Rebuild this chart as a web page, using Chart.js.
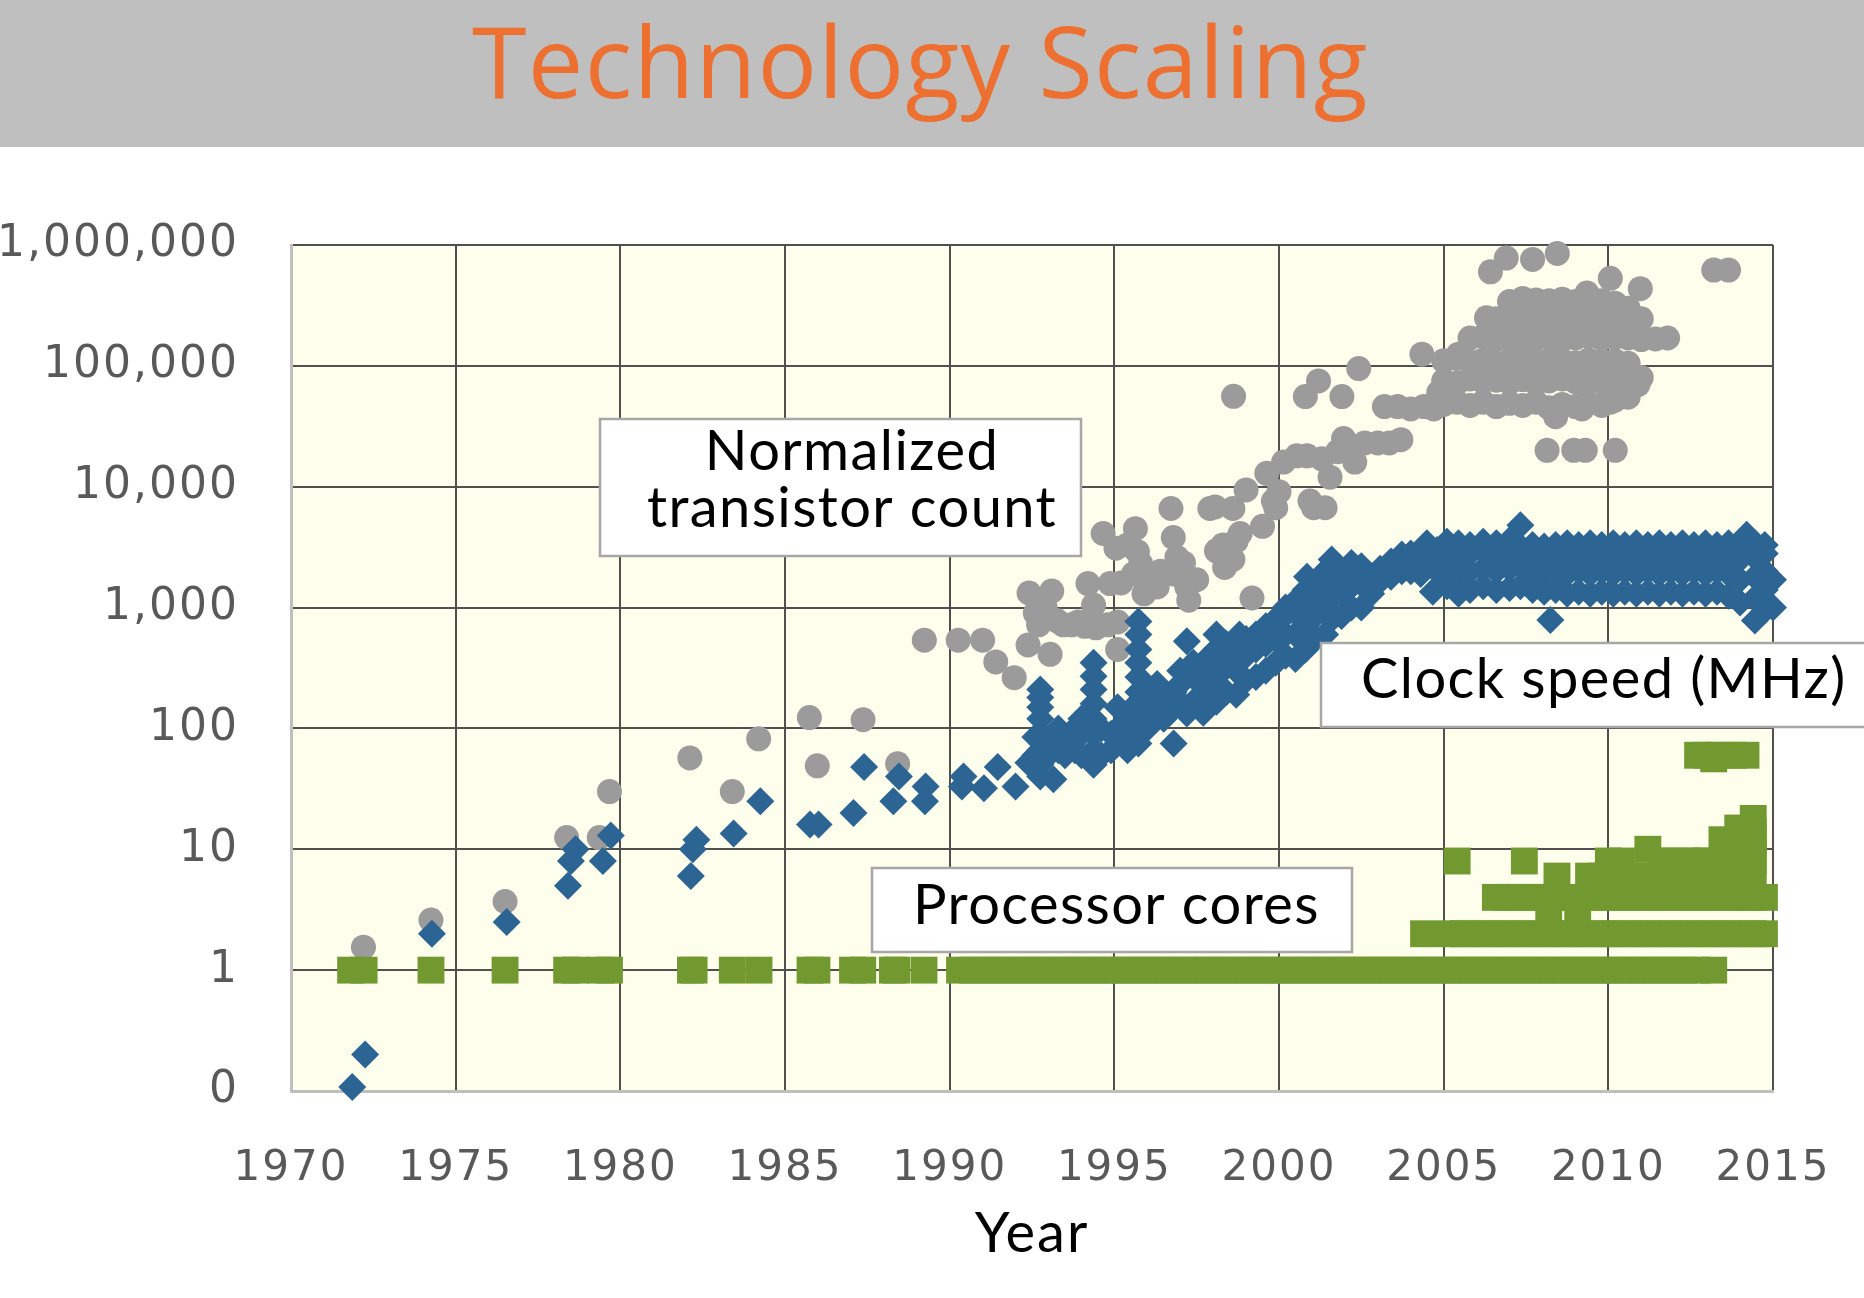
<!DOCTYPE html>
<html><head><meta charset="utf-8">
<script src="https://cdn.jsdelivr.net/npm/chart.js@4.4.1/dist/chart.umd.min.js"></script>
<style>
html,body{margin:0;padding:0;background:#fff;width:1864px;height:1298px;overflow:hidden}
#hdr{position:absolute;left:0;top:0;width:1864px;height:147px;background:#bfbfbf}
#ttl{position:absolute;left:472px;top:10px;font:99px/1 "Open Sans";letter-spacing:1.3px;color:#ed7030;white-space:nowrap}
#wrap{position:absolute;left:0;top:147px;width:1864px;height:1151px}
</style></head><body>
<div id="hdr"><div id="ttl">Technology Scaling</div></div>
<div id="wrap"><canvas id="c" width="1864" height="1151"></canvas></div>
<script>
// ---- data ----
const xTickValues = [1970,1975,1980,1985,1990,1995,2000,2005,2010,2015];
const yTickValues = [0.1,1,10,100,1000,10000,100000,1000000];
const yTickLabels = ['0','1','10','100','1,000','10,000','100,000','1,000,000'];
const xTitle = 'Year';

const transistorPoints = [
[1972.2,1.55],[1974.25,2.6],[1976.5,3.7],[1978.37,12.5],[1979.36,12.5],[1979.67,30],[1982.11,57],[1983.4,30],[1984.2,82],[1985.74,123],[1985.98,49],[1987.37,118],[1988.42,51],[1989.23,537],[1990.26,537],[1991.0,537],[1991.4,355],[1991.96,263],
[1992.38,490],[1992.41,1320],[1992.6,900],[1992.7,720],[1992.9,1000],[1993.05,410],[1993.1,1370],[1993.25,780],[1993.45,720],[1993.7,720],[1993.9,760],[1994.1,700],[1994.2,1580],[1994.37,1050],[1994.44,680],[1994.66,4100],[1994.8,720],[1994.87,1580],[1995.05,3100],[1995.1,760],[1995.1,450],[1995.2,1600],[1995.4,3300],[1995.58,1900],[1995.64,4500],[1995.7,2900],[1995.8,2300],[1995.9,1300],[1996.0,1700],[1996.3,1480],[1996.4,2000],[1996.72,6600],[1996.8,1900],[1996.79,3800],[1996.9,2600],[1997.1,2340],[1997.2,1480],[1997.26,1150],[1997.5,1700],[1997.9,6600],[1998.06,6800],[1998.1,2950],[1998.3,3300],[1998.35,2150],[1998.6,6600],[1998.6,2500],[1998.62,56000],[1998.7,3560],[1998.82,4100],[1999.0,9400],[1999.18,1200],[1999.5,4700],[1999.63,12900],[1999.83,7600],[1999.9,6700],[2000.0,9100],[2000.14,16000],
[2000.54,18000],[2000.85,18000],[2000.8,55700],[2000.94,7600],[2001.05,6700],[2001.2,75000],[2001.3,17000],[2001.4,6700],[2001.55,12000],[2001.78,19500],[2001.91,55700],[2001.96,25000],[2002.06,23000],[2002.3,16000],[2002.42,95000],[2002.6,23000],[2003.0,23000],[2003.2,46000],[2003.35,23000],[2003.6,46000],[2003.7,24500],[2004.0,44000],[2004.34,125000],[2004.4,46000],[2004.7,44000],[2004.85,60000],
[2005.0,48000],[2005.0,75000],[2005.0,110000],
[2005.4,50000],[2005.4,72000],[2005.4,115000],[2005.45,125000],
[2005.8,47000],[2005.8,78000],[2005.8,108000],[2005.8,170000],
[2006.2,50000],[2006.2,74000],[2006.2,112000],[2006.2,175000],[2006.3,250000],
[2006.6,46000],[2006.6,76000],[2006.6,105000],[2006.6,165000],[2006.6,245000],
[2007.0,49000],[2007.0,73000],[2007.0,110000],[2007.0,170000],[2007.0,255000],[2007.0,340000],
[2007.4,47000],[2007.4,77000],[2007.4,115000],[2007.4,180000],[2007.4,260000],[2007.4,360000],
[2007.8,50000],[2007.8,72000],[2007.8,108000],[2007.8,168000],[2007.8,245000],[2007.8,350000],
[2008.2,45000],[2008.2,75000],[2008.2,112000],[2008.2,172000],[2008.2,250000],[2008.2,345000],
[2008.6,48000],[2008.6,78000],[2008.6,110000],[2008.6,165000],[2008.6,255000],[2008.6,355000],
[2009.0,46000],[2009.0,74000],[2009.0,106000],[2009.0,170000],[2009.0,248000],[2009.0,340000],
[2009.35,50000],[2009.4,76000],[2009.4,112000],[2009.4,175000],[2009.4,252000],[2009.35,400000],
[2009.8,47000],[2009.8,73000],[2009.8,108000],[2009.8,168000],[2009.8,245000],[2009.8,345000],
[2010.2,52000],[2010.2,78000],[2010.2,110000],[2010.2,172000],[2010.2,258000],[2010.2,330000],
[2010.6,55000],[2010.6,80000],[2010.6,105000],[2010.6,170000],[2010.6,250000],[2010.6,300000],
[2011.0,80000],[2011.0,165000],[2011.0,245000],[2011.43,167000],[2011.8,170000],
[2006.42,600000],[2006.9,780000],[2007.7,760000],[2008.45,850000],[2010.06,530000],[2010.97,435000],[2013.2,620000],[2013.65,620000],
[2008.14,20000],[2008.95,20000],[2009.3,20000],[2010.21,20000],[2008.4,38000],[2009.2,44000],[2010.06,50000],[2010.9,70000]
];

const clockPoints = [
[1971.86,0.108],[1972.25,0.2],[1974.28,2],[1976.55,2.5],[1978.41,5],[1978.5,8],[1978.64,10],[1979.47,8],[1979.71,13],[1982.14,6],[1982.2,10],[1982.31,12],[1983.44,13.5],[1984.25,25],[1985.76,16],[1986.02,16],[1987.08,20],[1987.4,48],[1988.29,25],[1988.46,40],[1989.25,25],[1989.27,33],[1990.37,33],[1990.42,40],[1991.04,32],[1991.46,48],[1992.0,33],[1992.39,52],
[1992.6,60],[1992.6,85],[1992.75,40],[1992.75,50],[1992.75,66],[1992.75,90],[1992.75,120],[1992.75,150],[1992.75,180],[1992.75,210],[1993.0,60],[1993.0,75],[1993.15,38],[1993.3,66],[1993.3,100],[1993.5,60],[1993.5,80],[1993.8,66],[1993.8,100],[1994.0,60],[1994.0,90],[1994.0,120],
[1994.37,50],[1994.37,66],[1994.37,90],[1994.37,120],[1994.37,160],[1994.37,210],[1994.37,270],[1994.37,350],[1994.6,60],[1994.6,100],[1994.9,66],[1994.9,90],[1995.1,75],[1995.1,100],[1995.1,150],[1995.4,66],[1995.4,100],[1995.4,133],
[1995.73,75],[1995.73,100],[1995.73,133],[1995.73,166],[1995.73,200],[1995.73,266],[1995.73,350],[1995.73,450],[1995.73,600],[1995.73,767],
[1996.0,100],[1996.0,150],[1996.0,200],[1996.3,133],[1996.3,233],[1996.5,120],[1996.5,166],[1996.5,200],[1996.8,75],[1996.8,150],[1996.8,200],[1997.0,166],[1997.0,233],[1997.0,300],[1997.2,133],[1997.2,527],[1997.4,166],[1997.4,266],[1997.4,350],[1997.7,135],[1997.7,233],[1997.7,300],[1997.9,200],[1997.9,300],[1997.9,400],
[1998.1,166],[1998.1,266],[1998.1,450],[1998.1,600],[1998.4,200],[1998.4,333],[1998.4,500],[1998.7,190],[1998.7,300],[1998.7,450],[1998.8,600],[1999.0,250],[1999.0,400],[1999.0,550],[1999.3,266],[1999.3,450],[1999.3,600],[1999.6,300],[1999.6,500],[1999.6,700],[1999.9,350],[1999.9,550],[1999.9,800],
[2000.2,400],[2000.2,600],[2000.2,866],[2000.2,1000],[2000.5,376],[2000.5,600],[2000.5,900],[2000.5,1133],[2000.8,450],[2000.8,700],[2000.8,1000],[2000.8,1400],[2000.85,1800],
[2001.1,550],[2001.1,850],[2001.1,1200],[2001.1,1500],[2001.4,600],[2001.4,1000],[2001.4,1400],[2001.4,2000],[2001.6,800],[2001.6,1200],[2001.6,1700],[2001.6,2500],[2001.9,850],[2001.9,1300],[2001.9,1800],[2002.2,1000],[2002.2,1500],[2002.2,2000],[2002.2,2340],[2002.5,1000],[2002.5,1700],[2002.5,2200],[2002.8,1300],[2002.8,1800],[2003.07,1660],[2003.07,2100],[2003.4,1800],[2003.4,2400],[2003.73,2000],[2003.73,2750],[2004.0,2000],[2004.0,2800],[2004.3,1900],[2004.3,2600],[2004.49,2400],[2004.49,3400],[2004.67,1350],[2004.8,2000],[2004.8,3000],
[2005.1,1500],[2005.1,2200],[2005.1,3000],[2005.1,3500],
[2005.45,1300],[2005.45,1900],[2005.45,2700],[2005.45,3400],
[2005.8,1400],[2005.8,2000],[2005.8,2800],[2005.8,3300],
[2006.2,1500],[2006.2,2100],[2006.2,2900],[2006.2,3500],
[2006.6,1400],[2006.6,2000],[2006.6,2700],[2006.6,3400],
[2007.0,1450],[2007.0,2100],[2007.0,2900],[2007.0,3600],
[2007.33,1500],[2007.33,2200],[2007.33,3200],[2007.33,4800],
[2007.7,1400],[2007.7,2000],[2007.7,2800],[2007.7,3300],
[2008.05,1350],[2008.05,1900],[2008.05,2700],[2008.05,3200],
[2008.24,790],
[2008.4,1400],[2008.4,2000],[2008.4,2800],[2008.4,3300],
[2008.75,1300],[2008.75,1900],[2008.75,2700],[2008.75,3400],
[2009.1,1350],[2009.1,2000],[2009.1,2800],[2009.1,3300],
[2009.45,1300],[2009.45,1900],[2009.45,2700],[2009.45,3400],
[2009.8,1350],[2009.8,2000],[2009.8,2800],[2009.8,3300],
[2010.15,1300],[2010.15,1900],[2010.15,2700],[2010.15,3400],
[2010.5,1350],[2010.5,2000],[2010.5,2800],[2010.5,3300],
[2010.85,1300],[2010.85,1900],[2010.85,2700],[2010.85,3400],
[2011.2,1350],[2011.2,2000],[2011.2,2800],[2011.2,3300],
[2011.55,1300],[2011.55,1900],[2011.55,2700],[2011.55,3400],
[2011.9,1350],[2011.9,2000],[2011.9,2800],[2011.9,3300],
[2012.25,1300],[2012.25,1900],[2012.25,2700],[2012.25,3400],
[2012.6,1350],[2012.6,2000],[2012.6,2800],[2012.6,3300],
[2012.95,1300],[2012.95,1900],[2012.95,2700],[2012.95,3400],
[2013.3,1350],[2013.3,2000],[2013.3,2800],[2013.3,3300],
[2013.65,1250],[2013.65,1900],[2013.65,2700],[2013.65,3400],
[2014.0,1100],[2014.0,1700],[2014.0,2500],[2014.0,3300],
[2014.2,4000],
[2014.45,780],[2014.45,1200],[2014.45,1800],[2014.45,2600],[2014.45,3400],
[2014.75,950],[2014.75,1400],[2014.75,2000],[2014.75,2800],[2014.75,3300],
[2015.0,1000],[2015.0,1700]
];

const corePoints = [
[1971.81,1],[1972.22,1],[1974.25,1],[1976.5,1],[1978.37,1],[1978.64,1],[1979.4,1],[1979.67,1],[1982.13,1],[1982.24,1],[1983.4,1],[1984.21,1],[1985.76,1],[1985.97,1],[1987.05,1],[1987.36,1],[1988.26,1],[1988.39,1],[1989.22,1],
[1990.3,1],[1990.7,1],[1991.1,1],[1991.5,1],[1991.9,1],[1992.3,1],[1992.7,1],[1993.1,1],[1993.5,1],[1993.9,1],[1994.3,1],[1994.7,1],[1995.1,1],[1995.5,1],[1995.9,1],[1996.3,1],[1996.7,1],[1997.1,1],[1997.5,1],[1997.9,1],[1998.3,1],[1998.7,1],[1999.1,1],[1999.5,1],[1999.9,1],[2000.3,1],[2000.7,1],[2001.1,1],[2001.5,1],[2001.9,1],[2002.3,1],[2002.7,1],[2003.1,1],[2003.5,1],[2003.9,1],[2004.3,1],[2004.7,1],[2005.1,1],[2005.5,1],[2005.9,1],[2006.3,1],[2006.7,1],[2007.1,1],[2007.5,1],[2007.9,1],[2008.3,1],[2008.7,1],[2009.1,1],[2009.5,1],[2009.9,1],[2010.3,1],[2010.7,1],[2011.1,1],[2011.5,1],[2011.9,1],[2012.3,1],[2012.7,1],[2013.2,1],
[2004.39,2],[2005.2,2],[2005.6,2],[2006.0,2],[2006.4,2],[2006.8,2],[2007.2,2],[2007.6,2],[2008.0,2],[2008.4,2],[2008.8,2],[2009.2,2],[2009.6,2],[2010.0,2],[2010.4,2],[2010.8,2],[2011.2,2],[2011.6,2],[2012.0,2],[2012.4,2],[2012.8,2],[2013.2,2],[2013.6,2],[2014.0,2],[2014.4,2],[2014.74,2],
[2008.19,3],[2009.07,3],
[2006.57,4],[2006.9,4],[2007.3,4],[2007.7,4],[2008.1,4],[2008.5,4],[2008.9,4],[2009.3,4],[2009.7,4],[2010.1,4],[2010.5,4],[2010.9,4],[2011.3,4],[2011.7,4],[2012.1,4],[2012.5,4],[2012.9,4],[2013.3,4],[2013.7,4],[2014.1,4],[2014.4,4],[2014.74,4],
[2008.44,6],[2009.4,6],[2009.8,6],[2010.2,6],[2010.6,6],[2011.0,6],[2011.4,6],[2011.8,6],[2012.2,6],[2012.6,6],[2013.0,6],[2013.4,6],[2013.8,6],[2014.1,6],[2014.4,6],
[2005.41,8],[2007.45,8],[2010.0,8],[2010.4,8],[2011.6,8],[2012.0,8],[2012.4,8],[2012.8,8],[2013.0,8],[2013.45,8],[2013.93,8],[2014.4,8],
[2011.2,10],[2013.93,10],[2014.4,10],[2013.45,12],[2013.93,12],[2014.4,12],[2013.93,15],[2014.4,14],[2014.4,18],
[2012.71,60],[2013.0,60],[2013.2,56],[2013.4,60],[2013.8,60],[2014.18,60]
];

const seriesNames = ['Processor cores','Clock speed (MHz)','Normalized transistor count'];
const noteLines = [['Normalized','transistor count'],['Clock speed (MHz)'],['Processor cores']];

// ---- drawing ----
const toXY = arr => arr.map(p => ({x: p[0], y: p[1]}));

const bgPlugin = {
  id: 'plotBg',
  beforeDraw(chart) {
    const {ctx, chartArea: a} = chart;
    ctx.save();
    ctx.fillStyle = '#fefeed';
    ctx.fillRect(a.left, a.top, a.right - a.left, a.bottom - a.top);
    ctx.restore();
    // wider tracking for axis text, as in the reference
    ctx.letterSpacing = '2px';
  },
  beforeDatasetsDraw(chart) {
    chart.ctx.letterSpacing = '0px';
  }
};

const notes = [
  {box: [600, 272, 1081, 409], lines: noteLines[0], align: 'center', x: 852, base: [323, 380]},
  {box: [1321, 496, 1900, 580], lines: noteLines[1], align: 'left', x: 1361, base: [551]},
  {box: [872, 721, 1352, 805], lines: noteLines[2], align: 'left', x: 913, base: [777]}
];

const notePlugin = {
  id: 'notes',
  afterDatasetsDraw(chart) {
    const ctx = chart.ctx;
    ctx.save();
    notes.forEach(n => {
      const [l, t, r, b] = n.box;
      ctx.letterSpacing = '0px';
      ctx.fillStyle = '#ffffff';
      ctx.fillRect(l, t, r - l, b - t);
      ctx.strokeStyle = '#a6a6a6';
      ctx.lineWidth = 2.5;
      ctx.strokeRect(l, t, r - l, b - t);
      ctx.fillStyle = '#000000';
      ctx.font = '56px Lato';
      ctx.letterSpacing = '1.4px';
      ctx.textAlign = n.align;
      ctx.textBaseline = 'alphabetic';
      n.lines.forEach((s, i) => ctx.fillText(s, n.x, n.base[i]));
    });
    ctx.restore();
    ctx.letterSpacing = '0px';
  }
};

const gridColor = '#505050';

new Chart(document.getElementById('c'), {
  type: 'scatter',
  data: {
    datasets: [
      {label: seriesNames[0], data: toXY(corePoints), pointStyle: 'rect', pointRadius: 19, backgroundColor: '#71992f', borderWidth: 0, clip: false},
      {label: seriesNames[1], data: toXY(clockPoints), pointStyle: 'rectRot', pointRadius: 14, backgroundColor: '#2c6593', borderWidth: 0, clip: false},
      {label: seriesNames[2], data: toXY(transistorPoints), pointStyle: 'circle', pointRadius: 12.5, backgroundColor: '#9b9b9b', borderWidth: 0, clip: false}
    ]
  },
  options: {
    responsive: false,
    animation: false,
    events: [],
    layout: {padding: {top: 98, right: 91, left: 0, bottom: 0}},
    plugins: {legend: {display: false}, tooltip: {enabled: false}},
    scales: {
      x: {
        type: 'linear', min: xTickValues[0], max: xTickValues[xTickValues.length - 1],
        afterBuildTicks: s => { s.ticks = xTickValues.map(v => ({value: v})); },
        afterFit: s => { s.height = 207; s.paddingLeft = 0; s.paddingRight = 0; },
        ticks: {padding: 53, autoSkip: false, maxRotation: 0, color: '#595959',
          font: {family: '"DejaVu Sans"', size: 42},
          callback: v => String(v)},
        grid: {color: c => (c.tick && c.tick.value === xTickValues[0]) ? 'rgba(0,0,0,0)' : gridColor, lineWidth: 2, drawTicks: false},
        border: {color: '#bfbfbf', width: 3},
        title: {display: true, text: xTitle, color: '#000', font: {family: 'Lato', size: 56}, padding: {top: 0, bottom: 30}}
      },
      y: {
        type: 'logarithmic', min: yTickValues[0], max: yTickValues[yTickValues.length - 1],
        afterBuildTicks: s => { s.ticks = yTickValues.map(v => ({value: v})); },
        afterFit: s => { s.width = 291; s.paddingTop = 0; s.paddingBottom = 0; },
        ticks: {padding: 52, autoSkip: false, color: '#595959',
          font: {family: '"DejaVu Sans"', size: 44},
          callback: v => { const i = yTickValues.indexOf(v); return i >= 0 ? yTickLabels[i] : ''; }},
        grid: {color: c => (c.tick && c.tick.value === yTickValues[0]) ? 'rgba(0,0,0,0)' : gridColor, lineWidth: 2, drawTicks: false},
        border: {color: '#bfbfbf', width: 3}
      }
    }
  },
  plugins: [bgPlugin, notePlugin]
});
</script></body></html>
